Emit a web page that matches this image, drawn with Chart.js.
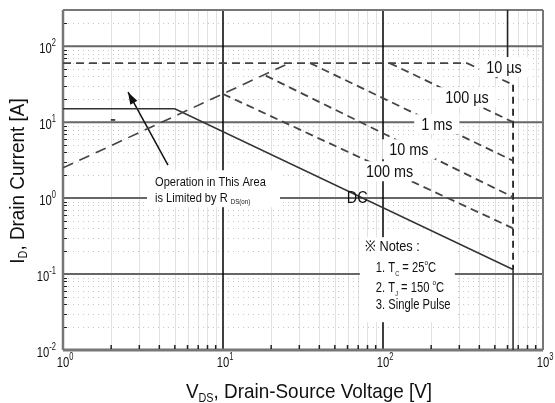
<!DOCTYPE html>
<html>
<head>
<meta charset="utf-8">
<script src="https://cdn.jsdelivr.net/npm/chart.js@4"></script>
<style>
  body { margin: 0; background: #fff; }
  #wrap { width: 555px; height: 403px; }
</style>
</head>
<body>
<div id="wrap"><canvas id="soaChart" width="555" height="403"></canvas></div>
<script>
// axis ranges and tick labels (decade + exponent text)
const xDecades = [1, 10, 100, 1000];
const xTickExps = ["0", "1", "2", "3"];
const yDecades = [0.01, 0.1, 1, 10, 100];
const yTickExps = ["-2", "-1", "0", "1", "2"];

// curves: V_DS [V] and I_D [A]
const dcV = [1, 5, 650, 650];
const dcI = [15, 15, 0.115, 0.01];
const rdsV = [1, 26];
const rdsI = [2.5, 60];
const idmV = [1, 335];
const idmI = [60, 60];
const us10V = [335, 650];
const us10I = [60, 31];
const us100V = [110, 650];
const us100I = [60, 10];
const ms1V = [35, 650];
const ms1I = [60, 3.1];
const ms10V = [18.5, 650];
const ms10I = [41, 1.03];
const ms100V = [10, 650];
const ms100I = [23.5, 0.4];
const vdssV = [650, 650];
const vdssI = [31, 0.115];
const stubV = [600, 600];
const stubI = [300, 72];
const dashMarkV = [1.99, 2.12];
const dashMarkI = [10.7, 10.7];
const arrowV = [4.53, 2.55];
const arrowI = [2.72, 24.8];

// curve labels and where they sit
const curveLabels = ["10 \u00b5s", "100 \u00b5s", "1 ms", "10 ms", "100 ms"];
const curveLabelV = [570, 335, 217, 145, 110];
const curveLabelI = [53, 21.3, 9.4, 4.4, 2.26];
const dcLabelV = 69, dcLabelI = 1.03;

const FONT = '"Liberation Sans", Arial, sans-serif';

function pts(vs, is) {
  return vs.map((v, k) => ({ x: v, y: is[k] }));
}

function line(vs, is, dash, width, color) {
  return {
    data: pts(vs, is),
    showLine: true,
    borderColor: color || "#333",
    borderWidth: width || 1.6,
    borderDash: dash || [],
    pointRadius: 0,
    fill: false,
  };
}

// draws text runs (with sub/superscripts), squeezed horizontally by k
function runsWidth(ctx, runs, k) {
  let w = 0;
  runs.forEach((r) => {
    ctx.font = r.s + "px " + FONT;
    r.w = ctx.measureText(r.t).width * k;
    w += r.w;
  });
  return w;
}

function drawRuns(ctx, runs, x, y, align, k) {
  const w = runsWidth(ctx, runs, k);
  let cx = align === "center" ? x - w / 2 : align === "right" ? x - w : x;
  ctx.textAlign = "left";
  ctx.textBaseline = "alphabetic";
  runs.forEach((r) => {
    ctx.save();
    ctx.font = r.s + "px " + FONT;
    ctx.translate(cx, y + (r.dy || 0));
    ctx.scale(k, 1);
    ctx.fillText(r.t, 0, 0);
    ctx.restore();
    cx += r.w;
  });
  return w;
}

function minorValues(decades) {
  let out = [];
  decades.slice(0, -1).forEach((d) => {
    for (let m = 2; m <= 9; m++) out.push(d * m);
  });
  return out;
}

const soaPlugin = {
  id: "soa",
  beforeDatasetsDraw(chart) {
    const ctx = chart.ctx;
    const xs = chart.scales.x, ys = chart.scales.y;
    const a = chart.chartArea;
    ctx.save();

    // minor verticals
    ctx.strokeStyle = "#e2e2e2";
    ctx.lineWidth = 1;
    minorValues(xDecades).forEach((v) => {
      const px = Math.round(xs.getPixelForValue(v)) + 0.5;
      ctx.beginPath(); ctx.moveTo(px, a.top); ctx.lineTo(px, a.bottom); ctx.stroke();
    });
    // minor horizontals, dotted
    ctx.strokeStyle = "#c8c8c8";
    ctx.setLineDash([1, 4]);
    minorValues(yDecades.concat([1000])).filter((v) => v < 300).forEach((v) => {
      const py = Math.round(ys.getPixelForValue(v)) + 0.5;
      ctx.beginPath(); ctx.moveTo(a.left, py); ctx.lineTo(a.right, py); ctx.stroke();
    });
    ctx.setLineDash([]);

    // major horizontals
    ctx.strokeStyle = "#666";
    ctx.lineWidth = 2;
    yDecades.slice(1).forEach((v) => {
      const py = ys.getPixelForValue(v);
      ctx.beginPath(); ctx.moveTo(a.left, py); ctx.lineTo(a.right, py); ctx.stroke();
    });
    // major verticals
    ctx.strokeStyle = "#000";
    ctx.lineWidth = 1.5;
    xDecades.slice(1, -1).forEach((v) => {
      const px = xs.getPixelForValue(v);
      ctx.beginPath(); ctx.moveTo(px, a.top); ctx.lineTo(px, a.bottom); ctx.stroke();
    });

    // frame
    ctx.strokeStyle = "#777";
    ctx.lineWidth = 2;
    ctx.beginPath(); ctx.moveTo(a.left, a.top); ctx.lineTo(a.right, a.top); ctx.stroke();
    ctx.beginPath(); ctx.moveTo(a.right, a.top); ctx.lineTo(a.right, a.bottom); ctx.stroke();
    ctx.lineWidth = 2.5;
    ctx.beginPath(); ctx.moveTo(a.left, a.top); ctx.lineTo(a.left, a.bottom); ctx.stroke();
    ctx.lineWidth = 3;
    ctx.beginPath(); ctx.moveTo(a.left, a.bottom); ctx.lineTo(a.right, a.bottom); ctx.stroke();

    // inner minor ticks
    ctx.strokeStyle = "#222";
    ctx.lineWidth = 1.5;
    minorValues(xDecades).forEach((v) => {
      const px = xs.getPixelForValue(v);
      ctx.beginPath(); ctx.moveTo(px, a.bottom - 1); ctx.lineTo(px, a.bottom - 5); ctx.stroke();
    });
    ctx.lineWidth = 1;
    minorValues(yDecades.concat([1000])).filter((v) => v < 300).forEach((v) => {
      const py = Math.round(ys.getPixelForValue(v)) + 0.5;
      ctx.beginPath(); ctx.moveTo(a.left + 1, py); ctx.lineTo(a.left + 4, py); ctx.stroke();
    });

    // white panels behind the two text blocks
    ctx.fillStyle = "#fff";
    const opX = xs.getPixelForValue(3.76);
    const opY = ys.getPixelForValue(1.62);
    ctx.fillRect(opX - 8, opY - 12, 133, 37);
    const nX = xs.getPixelForValue(77);
    const nY = ys.getPixelForValue(0.233);
    ctx.fillRect(nX - 5, nY - 9, 95, 85);
    ctx.restore();
  },
  afterDatasetsDraw(chart) {
    const ctx = chart.ctx;
    const xs = chart.scales.x, ys = chart.scales.y;
    ctx.save();
    ctx.fillStyle = "#111";

    // arrow head
    const tx = xs.getPixelForValue(arrowV[0]), ty = ys.getPixelForValue(arrowI[0]);
    const hx = xs.getPixelForValue(arrowV[1]), hy = ys.getPixelForValue(arrowI[1]);
    const ang = Math.atan2(hy - ty, hx - tx);
    ctx.beginPath();
    ctx.moveTo(hx, hy);
    ctx.lineTo(hx - 12 * Math.cos(ang) + 4 * Math.sin(ang), hy - 12 * Math.sin(ang) - 4 * Math.cos(ang));
    ctx.lineTo(hx - 12 * Math.cos(ang) - 4 * Math.sin(ang), hy - 12 * Math.sin(ang) + 4 * Math.cos(ang));
    ctx.closePath();
    ctx.fill();

    // pulse width labels on white boxes
    curveLabels.forEach((t, k) => {
      const cx = xs.getPixelForValue(curveLabelV[k]);
      const cy = ys.getPixelForValue(curveLabelI[k]);
      const runs = [{ t: t, s: 16 }];
      const w = runsWidth(ctx, runs, 0.9);
      ctx.fillStyle = "#fff";
      ctx.fillRect(cx - w / 2 - 7, cy - 10, w + 14, 20);
      ctx.fillStyle = "#111";
      drawRuns(ctx, runs, cx, cy + 6, "center", 0.9);
    });
    drawRuns(ctx, [{ t: "DC", s: 16 }], xs.getPixelForValue(dcLabelV), ys.getPixelForValue(dcLabelI) + 6, "center", 0.9);

    // operation area note
    const opX = xs.getPixelForValue(3.76);
    const opY = ys.getPixelForValue(1.62);
    drawRuns(ctx, [{ t: "Operation in This Area", s: 13.5 }], opX, opY + 4, "left", 0.82);
    drawRuns(ctx, [{ t: "is Limited by R ", s: 13.5 }, { t: "DS(on)", s: 7.5, dy: 2 }], opX, opY + 20, "left", 0.82);

    // notes
    const nX = xs.getPixelForValue(77);
    const nY = ys.getPixelForValue(0.233);
    drawRuns(ctx, [{ t: "\u203b Notes :", s: 15 }], nX, nY + 5, "left", 0.85);
    drawRuns(ctx, [{ t: "1. T", s: 14 }, { t: "C", s: 7, dy: 4 }, { t: " = 25", s: 14 }, { t: "o", s: 8, dy: -7 }, { t: "C", s: 14 }], nX + 11, nY + 26, "left", 0.8);
    drawRuns(ctx, [{ t: "2. T", s: 14 }, { t: "J", s: 7, dy: 4 }, { t: " = 150 ", s: 14 }, { t: "o", s: 8, dy: -7 }, { t: "C", s: 14 }], nX + 11, nY + 46, "left", 0.8);
    drawRuns(ctx, [{ t: "3. Single Pulse", s: 14 }], nX + 11, nY + 63, "left", 0.8);

    // tick labels
    ctx.fillStyle = "#111";
    yDecades.forEach((v, k) => {
      const py = ys.getPixelForValue(v);
      drawRuns(ctx, [{ t: "10", s: 15 }, { t: yTickExps[k], s: 10, dy: -7 }], 56, py + 7, "right", 0.75);
    });
    xDecades.forEach((v, k) => {
      const px = xs.getPixelForValue(v);
      drawRuns(ctx, [{ t: "10", s: 15 }, { t: xTickExps[k], s: 10, dy: -7 }], px + 2, 367, "center", 0.75);
    });

    // axis titles
    const a = chart.chartArea;
    drawRuns(ctx, [{ t: "V", s: 21 }, { t: "DS", s: 12, dy: 4 }, { t: ", Drain-Source Voltage [V]", s: 21 }], (a.left + a.right) / 2 + 6, 398, "center", 0.9);
    ctx.save();
    ctx.translate(24, (a.top + a.bottom) / 2 + 1);
    ctx.rotate(-Math.PI / 2);
    drawRuns(ctx, [{ t: "I", s: 21 }, { t: "D", s: 12, dy: 3 }, { t: ", Drain Current [A]", s: 21 }], 0, 0, "center", 0.9);
    ctx.restore();
    ctx.restore();
  },
};

const ctx = document.getElementById("soaChart");

new Chart(ctx, {
  type: "scatter",
  data: {
    datasets: [
      line(idmV, idmI, [8, 5], 1.8, "#444"),
      line(rdsV, rdsI, [11, 7], 1.6, "#444"),
      line(us10V, us10I, [8, 5], 1.8, "#444"),
      line(us100V, us100I, [8, 5], 1.8, "#444"),
      line(ms1V, ms1I, [8, 5], 1.8, "#444"),
      line(ms10V, ms10I, [8, 5], 1.8, "#444"),
      line(ms100V, ms100I, [8, 5], 1.8, "#444"),
      line(vdssV, vdssI, [7, 5], 1.8, "#222"),
      line(dcV, dcI, [], 1.6, "#333"),
      line(stubV, stubI, [], 1.5, "#222"),
      line(dashMarkV, dashMarkI, [], 1.5, "#111"),
      line(arrowV, arrowI, [], 1.5, "#111"),
    ],
  },
  options: {
    responsive: false,
    animation: false,
    devicePixelRatio: 1,
    layout: { padding: { top: 10, right: 12, left: 0, bottom: 0 } },
    plugins: {
      legend: { display: false },
      tooltip: { enabled: false },
    },
    scales: {
      x: {
        type: "logarithmic",
        min: 1,
        max: 1000,
        grid: { display: false },
        border: { display: false },
        ticks: { display: false },
        afterFit(s) { s.height = 53; },
      },
      y: {
        type: "logarithmic",
        min: 0.01,
        max: 300,
        grid: { display: false },
        border: { display: false },
        ticks: { display: false },
        afterFit(s) { s.width = 63; },
      },
    },
  },
  plugins: [soaPlugin],
});
</script>
</body>
</html>
